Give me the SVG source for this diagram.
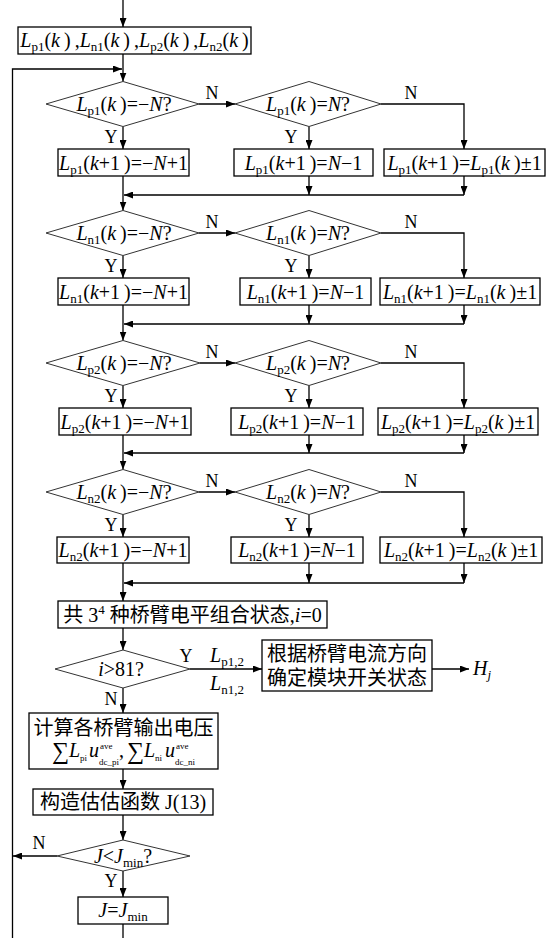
<svg xmlns="http://www.w3.org/2000/svg" width="556" height="938" viewBox="0 0 556 938">
<style>
.t{font-family:"Liberation Serif","Noto Sans CJK SC",serif;font-size:20px;fill:#000}
.i{font-style:italic}
.sb{font-size:13px;font-style:normal}
.ss{font-size:9px;font-style:normal}
.lb{font-family:"Liberation Serif",serif;font-size:18px;fill:#000;text-anchor:middle}
.box{fill:#fff;stroke:#000;stroke-width:1.3}
.dia{fill:#fff;stroke:#333;stroke-width:1}
.ln{fill:none;stroke:#000;stroke-width:1.3}
</style>
<defs>
<marker id="ar" markerUnits="userSpaceOnUse" markerWidth="9" markerHeight="7" refX="9" refY="3.5" orient="auto">
<path d="M0,0 L9,3.5 L0,7 z" fill="#000"/>
</marker>
</defs>

<g id="connectors">
<line class="ln" x1="123" y1="0" x2="123" y2="27" marker-end="url(#ar)"/>
<line class="ln" x1="123" y1="54" x2="123" y2="81.5" marker-end="url(#ar)"/>
<polyline class="ln" points="12.5,938 12.5,69 122,69" marker-end="url(#ar)"/>
<!-- row 1 -->
<line class="ln" x1="199" y1="104" x2="235" y2="104" marker-end="url(#ar)"/>
<polyline class="ln" points="381,104 464,104 464,149" marker-end="url(#ar)"/>
<line class="ln" x1="123" y1="126.5" x2="123" y2="149" marker-end="url(#ar)"/>
<line class="ln" x1="309" y1="126.5" x2="309" y2="149" marker-end="url(#ar)"/>
<line class="ln" x1="309" y1="176" x2="309" y2="195" marker-end="url(#ar)"/>
<line class="ln" x1="464" y1="176" x2="464" y2="195" marker-end="url(#ar)"/>
<line class="ln" x1="464" y1="195" x2="124" y2="195" marker-end="url(#ar)"/>
<line class="ln" x1="123" y1="176" x2="123" y2="210.5" marker-end="url(#ar)"/>
<!-- row 2 -->
<line class="ln" x1="199" y1="233" x2="235" y2="233" marker-end="url(#ar)"/>
<polyline class="ln" points="381,233 464,233 464,278" marker-end="url(#ar)"/>
<line class="ln" x1="123" y1="255.5" x2="123" y2="278" marker-end="url(#ar)"/>
<line class="ln" x1="309" y1="255.5" x2="309" y2="278" marker-end="url(#ar)"/>
<line class="ln" x1="309" y1="305" x2="309" y2="324" marker-end="url(#ar)"/>
<line class="ln" x1="464" y1="305" x2="464" y2="324" marker-end="url(#ar)"/>
<line class="ln" x1="464" y1="324" x2="124" y2="324" marker-end="url(#ar)"/>
<line class="ln" x1="123" y1="305" x2="123" y2="340.5" marker-end="url(#ar)"/>
<!-- row 3 -->
<line class="ln" x1="200" y1="363" x2="235" y2="363" marker-end="url(#ar)"/>
<polyline class="ln" points="381,363 464,363 464,408" marker-end="url(#ar)"/>
<line class="ln" x1="123" y1="385.5" x2="123" y2="408" marker-end="url(#ar)"/>
<line class="ln" x1="309" y1="385.5" x2="309" y2="408" marker-end="url(#ar)"/>
<line class="ln" x1="309" y1="435" x2="309" y2="453" marker-end="url(#ar)"/>
<line class="ln" x1="464" y1="435" x2="464" y2="453" marker-end="url(#ar)"/>
<line class="ln" x1="464" y1="453" x2="124" y2="453" marker-end="url(#ar)"/>
<line class="ln" x1="123" y1="435" x2="123" y2="469.5" marker-end="url(#ar)"/>
<!-- row 4 -->
<line class="ln" x1="199" y1="492" x2="235" y2="492" marker-end="url(#ar)"/>
<polyline class="ln" points="381,492 464,492 464,537" marker-end="url(#ar)"/>
<line class="ln" x1="123" y1="514.5" x2="123" y2="537" marker-end="url(#ar)"/>
<line class="ln" x1="309" y1="514.5" x2="309" y2="537" marker-end="url(#ar)"/>
<line class="ln" x1="309" y1="563" x2="309" y2="583" marker-end="url(#ar)"/>
<line class="ln" x1="464" y1="563" x2="464" y2="583" marker-end="url(#ar)"/>
<line class="ln" x1="464" y1="583" x2="124" y2="583" marker-end="url(#ar)"/>
<line class="ln" x1="123" y1="563" x2="123" y2="601" marker-end="url(#ar)"/>
<!-- lower part -->
<line class="ln" x1="123" y1="628" x2="123" y2="650" marker-end="url(#ar)"/>
<line class="ln" x1="190" y1="669" x2="262" y2="669" marker-end="url(#ar)"/>
<line class="ln" x1="432" y1="669" x2="469" y2="669" marker-end="url(#ar)"/>
<line class="ln" x1="123" y1="688" x2="123" y2="713" marker-end="url(#ar)"/>
<line class="ln" x1="123" y1="769" x2="123" y2="789" marker-end="url(#ar)"/>
<line class="ln" x1="123" y1="815" x2="123" y2="840" marker-end="url(#ar)"/>
<line class="ln" x1="57" y1="856" x2="13" y2="856" marker-end="url(#ar)"/>
<line class="ln" x1="123" y1="871" x2="123" y2="897" marker-end="url(#ar)"/>
<line class="ln" x1="123" y1="924" x2="123" y2="938"/>
</g>

<g id="labels">
<text class="lb" x="212" y="99">N</text>
<text class="lb" x="411" y="99">N</text>
<text class="lb" x="111" y="143">Y</text>
<text class="lb" x="291" y="143">Y</text>
<text class="lb" x="212" y="228">N</text>
<text class="lb" x="411" y="228">N</text>
<text class="lb" x="111" y="272">Y</text>
<text class="lb" x="291" y="272">Y</text>
<text class="lb" x="212" y="358">N</text>
<text class="lb" x="411" y="358">N</text>
<text class="lb" x="111" y="402">Y</text>
<text class="lb" x="291" y="402">Y</text>
<text class="lb" x="212" y="487">N</text>
<text class="lb" x="411" y="487">N</text>
<text class="lb" x="111" y="531">Y</text>
<text class="lb" x="291" y="531">Y</text>
<text class="lb" x="186" y="662">Y</text>
<text class="lb" x="111" y="705">N</text>
<text class="lb" x="39" y="849">N</text>
<text class="lb" x="111" y="887">Y</text>
<text class="t" x="210" y="662"><tspan class="i">L</tspan><tspan class="sb" dy="4">p1,2</tspan></text>
<text class="t" x="210" y="690"><tspan class="i">L</tspan><tspan class="sb" dy="4">n1,2</tspan></text>
<text class="t" x="473" y="675"><tspan class="i">H</tspan><tspan dy="4" style="font-size:13px;font-style:italic">j</tspan></text>
</g>

<g id="init">
<rect class="box" x="18" y="27" width="233" height="27"/>
<text class="t" x="134.5" y="47" text-anchor="middle"><tspan class="i">L</tspan><tspan class="sb" dy="4">p1</tspan><tspan dy="-4">(</tspan><tspan class="i">k</tspan>&#8201;)&#8201;,<tspan class="i">L</tspan><tspan class="sb" dy="4">n1</tspan><tspan dy="-4">(</tspan><tspan class="i">k</tspan>&#8201;)&#8201;,<tspan class="i">L</tspan><tspan class="sb" dy="4">p2</tspan><tspan dy="-4">(</tspan><tspan class="i">k</tspan>&#8201;)&#8201;,<tspan class="i">L</tspan><tspan class="sb" dy="4">n2</tspan><tspan dy="-4">(</tspan><tspan class="i">k</tspan>&#8201;)</text>
</g>

<!-- Row 1 -->
<g id="d1a">
<polygon class="dia" points="46,104 123,81.5 199,104 123,126.5"/>
<text class="t" x="124" y="111" text-anchor="middle"><tspan class="i">L</tspan><tspan class="sb" dy="4">p1</tspan><tspan dy="-4">(</tspan><tspan class="i">k</tspan>&#8201;)=−<tspan class="i">N</tspan>?</text>
</g>
<g id="d1b">
<polygon class="dia" points="235,104 309,81.5 381,104 309,126.5"/>
<text class="t" x="308" y="111" text-anchor="middle"><tspan class="i">L</tspan><tspan class="sb" dy="4">p1</tspan><tspan dy="-4">(</tspan><tspan class="i">k</tspan>&#8201;)=<tspan class="i">N</tspan>?</text>
</g>
<g id="b1a">
<rect class="box" x="58" y="149" width="131" height="27"/>
<text class="t" x="123.5" y="169.5" text-anchor="middle"><tspan class="i">L</tspan><tspan class="sb" dy="4">p1</tspan><tspan dy="-4">(</tspan><tspan class="i">k</tspan>+1&#8201;)=−<tspan class="i">N</tspan>+1</text>
</g>
<g id="b1b">
<rect class="box" x="234" y="149" width="139" height="27"/>
<text class="t" x="303.5" y="169.5" text-anchor="middle"><tspan class="i">L</tspan><tspan class="sb" dy="4">p1</tspan><tspan dy="-4">(</tspan><tspan class="i">k</tspan>+1&#8201;)=<tspan class="i">N</tspan>−1</text>
</g>
<g id="b1c">
<rect class="box" x="384" y="149" width="161" height="27"/>
<text class="t" x="464.5" y="169.5" text-anchor="middle"><tspan class="i">L</tspan><tspan class="sb" dy="4">p1</tspan><tspan dy="-4">(</tspan><tspan class="i">k</tspan>+1&#8201;)=<tspan class="i">L</tspan><tspan class="sb" dy="4">p1</tspan><tspan dy="-4">(</tspan><tspan class="i">k</tspan>&#8201;)±1</text>
</g>

<!-- Row 2 -->
<g id="d2a">
<polygon class="dia" points="46,233 123,210.5 199,233 123,255.5"/>
<text class="t" x="124" y="240" text-anchor="middle"><tspan class="i">L</tspan><tspan class="sb" dy="4">n1</tspan><tspan dy="-4">(</tspan><tspan class="i">k</tspan>&#8201;)=−<tspan class="i">N</tspan>?</text>
</g>
<g id="d2b">
<polygon class="dia" points="235,233 309,210.5 381,233 309,255.5"/>
<text class="t" x="308" y="240" text-anchor="middle"><tspan class="i">L</tspan><tspan class="sb" dy="4">n1</tspan><tspan dy="-4">(</tspan><tspan class="i">k</tspan>&#8201;)=<tspan class="i">N</tspan>?</text>
</g>
<g id="b2a">
<rect class="box" x="58" y="278" width="131" height="27"/>
<text class="t" x="123.5" y="298.5" text-anchor="middle"><tspan class="i">L</tspan><tspan class="sb" dy="4">n1</tspan><tspan dy="-4">(</tspan><tspan class="i">k</tspan>+1&#8201;)=−<tspan class="i">N</tspan>+1</text>
</g>
<g id="b2b">
<rect class="box" x="240" y="278" width="131" height="27"/>
<text class="t" x="305.5" y="298.5" text-anchor="middle"><tspan class="i">L</tspan><tspan class="sb" dy="4">n1</tspan><tspan dy="-4">(</tspan><tspan class="i">k</tspan>+1&#8201;)=<tspan class="i">N</tspan>−1</text>
</g>
<g id="b2c">
<rect class="box" x="380" y="278" width="160" height="27"/>
<text class="t" x="460" y="298.5" text-anchor="middle"><tspan class="i">L</tspan><tspan class="sb" dy="4">n1</tspan><tspan dy="-4">(</tspan><tspan class="i">k</tspan>+1&#8201;)=<tspan class="i">L</tspan><tspan class="sb" dy="4">n1</tspan><tspan dy="-4">(</tspan><tspan class="i">k</tspan>&#8201;)±1</text>
</g>

<!-- Row 3 -->
<g id="d3a">
<polygon class="dia" points="46,363 123,340.5 200,363 123,385.5"/>
<text class="t" x="124" y="370" text-anchor="middle"><tspan class="i">L</tspan><tspan class="sb" dy="4">p2</tspan><tspan dy="-4">(</tspan><tspan class="i">k</tspan>&#8201;)=−<tspan class="i">N</tspan>?</text>
</g>
<g id="d3b">
<polygon class="dia" points="235,363 309,340.5 381,363 309,385.5"/>
<text class="t" x="308" y="370" text-anchor="middle"><tspan class="i">L</tspan><tspan class="sb" dy="4">p2</tspan><tspan dy="-4">(</tspan><tspan class="i">k</tspan>&#8201;)=<tspan class="i">N</tspan>?</text>
</g>
<g id="b3a">
<rect class="box" x="59" y="408" width="132" height="27"/>
<text class="t" x="125" y="428.5" text-anchor="middle"><tspan class="i">L</tspan><tspan class="sb" dy="4">p2</tspan><tspan dy="-4">(</tspan><tspan class="i">k</tspan>+1&#8201;)=−<tspan class="i">N</tspan>+1</text>
</g>
<g id="b3b">
<rect class="box" x="231" y="408" width="132" height="27"/>
<text class="t" x="297" y="428.5" text-anchor="middle"><tspan class="i">L</tspan><tspan class="sb" dy="4">p2</tspan><tspan dy="-4">(</tspan><tspan class="i">k</tspan>+1&#8201;)=<tspan class="i">N</tspan>−1</text>
</g>
<g id="b3c">
<rect class="box" x="378" y="408" width="160" height="27"/>
<text class="t" x="458" y="428.5" text-anchor="middle"><tspan class="i">L</tspan><tspan class="sb" dy="4">p2</tspan><tspan dy="-4">(</tspan><tspan class="i">k</tspan>+1&#8201;)=<tspan class="i">L</tspan><tspan class="sb" dy="4">p2</tspan><tspan dy="-4">(</tspan><tspan class="i">k</tspan>&#8201;)±1</text>
</g>

<!-- Row 4 -->
<g id="d4a">
<polygon class="dia" points="46,492 123,469.5 199,492 123,514.5"/>
<text class="t" x="124" y="499" text-anchor="middle"><tspan class="i">L</tspan><tspan class="sb" dy="4">n2</tspan><tspan dy="-4">(</tspan><tspan class="i">k</tspan>&#8201;)=−<tspan class="i">N</tspan>?</text>
</g>
<g id="d4b">
<polygon class="dia" points="235,492 309,469.5 381,492 309,514.5"/>
<text class="t" x="308" y="499" text-anchor="middle"><tspan class="i">L</tspan><tspan class="sb" dy="4">n2</tspan><tspan dy="-4">(</tspan><tspan class="i">k</tspan>&#8201;)=<tspan class="i">N</tspan>?</text>
</g>
<g id="b4a">
<rect class="box" x="57" y="537" width="132" height="26"/>
<text class="t" x="123" y="557" text-anchor="middle"><tspan class="i">L</tspan><tspan class="sb" dy="4">n2</tspan><tspan dy="-4">(</tspan><tspan class="i">k</tspan>+1&#8201;)=−<tspan class="i">N</tspan>+1</text>
</g>
<g id="b4b">
<rect class="box" x="231" y="537" width="132" height="26"/>
<text class="t" x="297" y="557" text-anchor="middle"><tspan class="i">L</tspan><tspan class="sb" dy="4">n2</tspan><tspan dy="-4">(</tspan><tspan class="i">k</tspan>+1&#8201;)=<tspan class="i">N</tspan>−1</text>
</g>
<g id="b4c">
<rect class="box" x="380" y="537" width="162" height="26"/>
<text class="t" x="461" y="557" text-anchor="middle"><tspan class="i">L</tspan><tspan class="sb" dy="4">n2</tspan><tspan dy="-4">(</tspan><tspan class="i">k</tspan>+1&#8201;)=<tspan class="i">L</tspan><tspan class="sb" dy="4">n2</tspan><tspan dy="-4">(</tspan><tspan class="i">k</tspan>&#8201;)±1</text>
</g>

<!-- Lower part -->
<g id="states">
<rect class="box" x="58" y="601" width="269" height="27"/>
<text class="t" x="192.5" y="622" text-anchor="middle">共 3<tspan class="sb" dy="-8">4</tspan><tspan dy="8"> 种桥臂电平组合状态,</tspan><tspan class="i">i</tspan>=0</text>
</g>
<g id="check_i">
<polygon class="dia" points="55,669 123,650 190,669 123,688"/>
<text class="t" x="121" y="676" text-anchor="middle"><tspan class="i">i</tspan>&gt;81?</text>
</g>
<g id="switch">
<rect class="box" x="262" y="640" width="170" height="51"/>
<text class="t" x="347" y="661" text-anchor="middle">根据桥臂电流方向</text>
<text class="t" x="347" y="685" text-anchor="middle">确定模块开关状态</text>
</g>
<g id="calc">
<rect class="box" x="29" y="713" width="189" height="56"/>
<text class="t" x="123.5" y="735" text-anchor="middle">计算各桥臂输出电压</text>
<text class="t"><tspan x="52" y="759" font-size="24">∑</tspan><tspan x="69" y="757" class="i">L</tspan><tspan x="80" y="761" class="ss">pi</tspan><tspan x="89" y="757" class="i">u</tspan><tspan x="100" y="749" class="ss">ave</tspan><tspan x="99" y="765" class="ss">dc_pi</tspan><tspan x="119" y="757">,</tspan><tspan x="127" y="759" font-size="24">∑</tspan><tspan x="144" y="757" class="i">L</tspan><tspan x="155" y="761" class="ss">ni</tspan><tspan x="165" y="757" class="i">u</tspan><tspan x="176" y="749" class="ss">ave</tspan><tspan x="175" y="765" class="ss">dc_ni</tspan></text>
</g>
<g id="costfn">
<rect class="box" x="33" y="789" width="180" height="26"/>
<text class="t" x="123" y="809" text-anchor="middle">构造估估函数 J(13)</text>
</g>
<g id="check_j">
<polygon class="dia" points="57,856 123,840 190,856 123,871"/>
<text class="t" x="123" y="863" text-anchor="middle"><tspan class="i">J</tspan>&lt;<tspan class="i">J</tspan><tspan class="sb" dy="4">min</tspan><tspan dy="-4">?</tspan></text>
</g>
<g id="update_j">
<rect class="box" x="78" y="897" width="90" height="27"/>
<text class="t" x="123" y="917" text-anchor="middle"><tspan class="i">J</tspan>=<tspan class="i">J</tspan><tspan class="sb" dy="4">min</tspan></text>
</g>
</svg>
